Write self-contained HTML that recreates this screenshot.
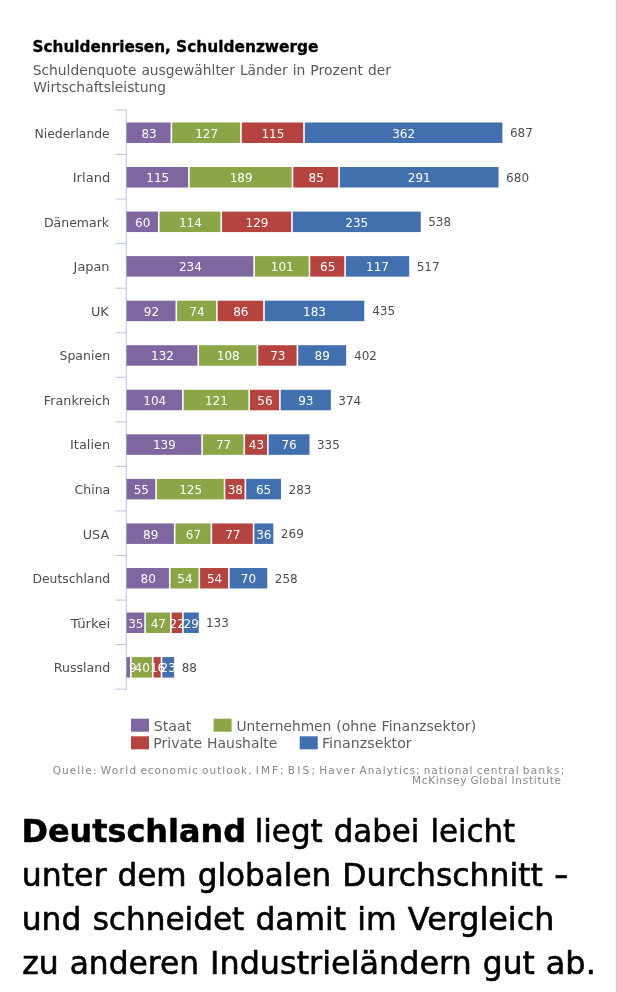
<!DOCTYPE html>
<html lang="de"><head><meta charset="utf-8"><title>Schuldenriesen, Schuldenzwerge</title>
<style>
html,body{margin:0;padding:0;background:#fff;}
body{width:617px;height:992px;overflow:hidden;position:relative;}
svg{position:absolute;left:0;top:0;display:block;}
text{font-family:"DejaVu Sans","Liberation Sans",sans-serif;}
.t{font-size:15px;font-weight:bold;fill:#000;stroke:#000;stroke-width:0.3px;}
.s{font-size:14px;fill:#5a5a5a;}
.c{font-size:12px;fill:#4d4d4d;}
.v{font-size:12px;fill:#fff;text-anchor:middle;}
.tot{font-size:12px;fill:#4d4d4d;}
.l{font-size:14px;fill:#5e5e5e;}
.q{font-size:10.5px;fill:#888;}
.big{font-size:31.5px;fill:#000;stroke:#000;stroke-width:0.6px;}
.bigb{font-size:31.5px;fill:#000;font-weight:bold;stroke:#000;stroke-width:0.5px;}
</style></head><body>
<svg width="617" height="992" viewBox="0 0 617 992">
<rect x="0" y="0" width="617" height="992" fill="#fff"/>
<rect x="615" y="0" width="1" height="992" fill="#f6f6f6"/>
<rect x="616" y="0" width="1" height="992" fill="#ccc"/>

<text class="t" x="32.52" y="51.50" textLength="138.32" lengthAdjust="spacingAndGlyphs">Schuldenriesen,</text>
<text class="t" x="176.11" y="51.50" textLength="142.43" lengthAdjust="spacingAndGlyphs">Schuldenzwerge</text>
<text class="s" x="32.69" y="74.80" textLength="103.83" lengthAdjust="spacingAndGlyphs">Schuldenquote</text>
<text class="s" x="141.42" y="74.80" textLength="93.60" lengthAdjust="spacingAndGlyphs">ausgewählter</text>
<text class="s" x="239.92" y="74.80" textLength="47.89" lengthAdjust="spacingAndGlyphs">Länder</text>
<text class="s" x="292.71" y="74.80" textLength="12.65" lengthAdjust="spacingAndGlyphs">in</text>
<text class="s" x="310.26" y="74.80" textLength="52.75" lengthAdjust="spacingAndGlyphs">Prozent</text>
<text class="s" x="367.91" y="74.80" textLength="22.94" lengthAdjust="spacingAndGlyphs">der</text>
<text class="s" x="33.18" y="92.30" textLength="132.96" lengthAdjust="spacingAndGlyphs">Wirtschaftsleistung</text>
<g stroke="#C6CCE8" stroke-width="1.2" fill="none">
<line x1="126.3" y1="109.50" x2="126.3" y2="689.65"/>
<line x1="115.5" y1="110.00" x2="126.5" y2="110.00" stroke="#BAC5DB" stroke-width="1"/>
<line x1="115.5" y1="154.55" x2="126.5" y2="154.55" stroke="#BAC5DB" stroke-width="1"/>
<line x1="115.5" y1="199.10" x2="126.5" y2="199.10" stroke="#BAC5DB" stroke-width="1"/>
<line x1="115.5" y1="243.65" x2="126.5" y2="243.65" stroke="#BAC5DB" stroke-width="1"/>
<line x1="115.5" y1="288.20" x2="126.5" y2="288.20" stroke="#BAC5DB" stroke-width="1"/>
<line x1="115.5" y1="332.75" x2="126.5" y2="332.75" stroke="#BAC5DB" stroke-width="1"/>
<line x1="115.5" y1="377.30" x2="126.5" y2="377.30" stroke="#BAC5DB" stroke-width="1"/>
<line x1="115.5" y1="421.85" x2="126.5" y2="421.85" stroke="#BAC5DB" stroke-width="1"/>
<line x1="115.5" y1="466.40" x2="126.5" y2="466.40" stroke="#BAC5DB" stroke-width="1"/>
<line x1="115.5" y1="510.95" x2="126.5" y2="510.95" stroke="#BAC5DB" stroke-width="1"/>
<line x1="115.5" y1="555.50" x2="126.5" y2="555.50" stroke="#BAC5DB" stroke-width="1"/>
<line x1="115.5" y1="600.05" x2="126.5" y2="600.05" stroke="#BAC5DB" stroke-width="1"/>
<line x1="115.5" y1="644.60" x2="126.5" y2="644.60" stroke="#BAC5DB" stroke-width="1"/>
<line x1="115.5" y1="689.15" x2="126.5" y2="689.15" stroke="#BAC5DB" stroke-width="1"/>
</g>
<text class="c" x="34.56" y="137.58" textLength="75.18" lengthAdjust="spacingAndGlyphs">Niederlande</text>
<rect x="126.50" y="122.48" width="44.08" height="20.5" fill="#7F66A0"/>
<rect x="172.18" y="122.48" width="68.00" height="20.5" fill="#8BA547"/>
<rect x="241.78" y="122.48" width="61.42" height="20.5" fill="#B5433F"/>
<rect x="304.80" y="122.48" width="197.58" height="20.5" fill="#426FAE"/>
<text class="v" x="149.04" y="137.58">83</text>
<text class="v" x="206.58" y="137.58">127</text>
<text class="v" x="272.89" y="137.58">115</text>
<text class="v" x="403.59" y="137.58">362</text>
<text class="tot" x="509.98" y="137.28" textLength="22.91" lengthAdjust="spacingAndGlyphs">687</text>
<text class="c" x="72.78" y="182.12" textLength="37.50" lengthAdjust="spacingAndGlyphs">Irland</text>
<rect x="126.50" y="167.02" width="61.62" height="20.5" fill="#7F66A0"/>
<rect x="189.72" y="167.02" width="101.97" height="20.5" fill="#8BA547"/>
<rect x="293.29" y="167.02" width="44.98" height="20.5" fill="#B5433F"/>
<rect x="339.87" y="167.02" width="158.67" height="20.5" fill="#426FAE"/>
<text class="v" x="157.81" y="182.12">115</text>
<text class="v" x="241.11" y="182.12">189</text>
<text class="v" x="316.18" y="182.12">85</text>
<text class="v" x="419.21" y="182.12">291</text>
<text class="tot" x="506.14" y="181.82" textLength="22.91" lengthAdjust="spacingAndGlyphs">680</text>
<text class="c" x="43.93" y="226.68" textLength="65.18" lengthAdjust="spacingAndGlyphs">Dänemark</text>
<rect x="126.50" y="211.57" width="31.48" height="20.5" fill="#7F66A0"/>
<rect x="159.58" y="211.57" width="60.87" height="20.5" fill="#8BA547"/>
<rect x="222.05" y="211.57" width="69.09" height="20.5" fill="#B5433F"/>
<rect x="292.74" y="211.57" width="127.98" height="20.5" fill="#426FAE"/>
<text class="v" x="142.74" y="226.68">60</text>
<text class="v" x="190.42" y="226.68">114</text>
<text class="v" x="257.00" y="226.68">129</text>
<text class="v" x="356.73" y="226.68">235</text>
<text class="tot" x="428.22" y="226.38" textLength="22.91" lengthAdjust="spacingAndGlyphs">538</text>
<text class="c" x="73.61" y="271.22" textLength="35.89" lengthAdjust="spacingAndGlyphs">Japan</text>
<rect x="126.50" y="256.12" width="126.83" height="20.5" fill="#7F66A0"/>
<rect x="254.93" y="256.12" width="53.75" height="20.5" fill="#8BA547"/>
<rect x="310.28" y="256.12" width="34.02" height="20.5" fill="#B5433F"/>
<rect x="345.90" y="256.12" width="63.32" height="20.5" fill="#426FAE"/>
<text class="v" x="190.42" y="271.22">234</text>
<text class="v" x="282.21" y="271.22">101</text>
<text class="v" x="327.69" y="271.22">65</text>
<text class="v" x="377.56" y="271.22">117</text>
<text class="tot" x="416.72" y="270.92" textLength="22.91" lengthAdjust="spacingAndGlyphs">517</text>
<text class="c" x="90.91" y="315.78" textLength="17.87" lengthAdjust="spacingAndGlyphs">UK</text>
<rect x="126.50" y="300.68" width="49.02" height="20.5" fill="#7F66A0"/>
<rect x="177.12" y="300.68" width="38.95" height="20.5" fill="#8BA547"/>
<rect x="217.67" y="300.68" width="45.53" height="20.5" fill="#B5433F"/>
<rect x="264.80" y="300.68" width="99.48" height="20.5" fill="#426FAE"/>
<text class="v" x="151.51" y="315.78">92</text>
<text class="v" x="196.99" y="315.78">74</text>
<text class="v" x="240.83" y="315.78">86</text>
<text class="v" x="314.54" y="315.78">183</text>
<text class="tot" x="372.13" y="315.48" textLength="22.91" lengthAdjust="spacingAndGlyphs">435</text>
<text class="c" x="59.44" y="360.32" textLength="50.72" lengthAdjust="spacingAndGlyphs">Spanien</text>
<rect x="126.50" y="345.22" width="70.94" height="20.5" fill="#7F66A0"/>
<rect x="199.04" y="345.22" width="57.58" height="20.5" fill="#8BA547"/>
<rect x="258.22" y="345.22" width="38.40" height="20.5" fill="#B5433F"/>
<rect x="298.22" y="345.22" width="47.97" height="20.5" fill="#426FAE"/>
<text class="v" x="162.47" y="360.32">132</text>
<text class="v" x="228.23" y="360.32">108</text>
<text class="v" x="277.82" y="360.32">73</text>
<text class="v" x="322.21" y="360.32">89</text>
<text class="tot" x="354.05" y="360.02" textLength="22.91" lengthAdjust="spacingAndGlyphs">402</text>
<text class="c" x="43.89" y="404.88" textLength="66.28" lengthAdjust="spacingAndGlyphs">Frankreich</text>
<rect x="126.50" y="389.77" width="55.59" height="20.5" fill="#7F66A0"/>
<rect x="183.69" y="389.77" width="64.71" height="20.5" fill="#8BA547"/>
<rect x="250.00" y="389.77" width="29.09" height="20.5" fill="#B5433F"/>
<rect x="280.69" y="389.77" width="50.16" height="20.5" fill="#426FAE"/>
<text class="v" x="154.80" y="404.88">104</text>
<text class="v" x="216.45" y="404.88">121</text>
<text class="v" x="264.94" y="404.88">56</text>
<text class="v" x="305.77" y="404.88">93</text>
<text class="tot" x="338.35" y="404.57" textLength="22.91" lengthAdjust="spacingAndGlyphs">374</text>
<text class="c" x="70.03" y="449.43" textLength="40.15" lengthAdjust="spacingAndGlyphs">Italien</text>
<rect x="126.50" y="434.32" width="74.77" height="20.5" fill="#7F66A0"/>
<rect x="202.87" y="434.32" width="40.60" height="20.5" fill="#8BA547"/>
<rect x="245.07" y="434.32" width="21.96" height="20.5" fill="#B5433F"/>
<rect x="268.63" y="434.32" width="40.85" height="20.5" fill="#426FAE"/>
<text class="v" x="164.39" y="449.43">139</text>
<text class="v" x="223.57" y="449.43">77</text>
<text class="v" x="256.45" y="449.43">43</text>
<text class="v" x="289.06" y="449.43">76</text>
<text class="tot" x="316.98" y="449.12" textLength="22.91" lengthAdjust="spacingAndGlyphs">335</text>
<text class="c" x="74.59" y="493.97" textLength="35.63" lengthAdjust="spacingAndGlyphs">China</text>
<rect x="126.50" y="478.87" width="28.74" height="20.5" fill="#7F66A0"/>
<rect x="156.84" y="478.87" width="66.90" height="20.5" fill="#8BA547"/>
<rect x="225.34" y="478.87" width="19.22" height="20.5" fill="#B5433F"/>
<rect x="246.16" y="478.87" width="34.82" height="20.5" fill="#426FAE"/>
<text class="v" x="141.37" y="493.97">55</text>
<text class="v" x="190.69" y="493.97">125</text>
<text class="v" x="235.35" y="493.97">38</text>
<text class="v" x="263.57" y="493.97">65</text>
<text class="tot" x="288.53" y="493.67" textLength="22.91" lengthAdjust="spacingAndGlyphs">283</text>
<text class="c" x="82.81" y="538.52" textLength="26.38" lengthAdjust="spacingAndGlyphs">USA</text>
<rect x="126.50" y="523.42" width="47.37" height="20.5" fill="#7F66A0"/>
<rect x="175.47" y="523.42" width="35.12" height="20.5" fill="#8BA547"/>
<rect x="212.19" y="523.42" width="40.60" height="20.5" fill="#B5433F"/>
<rect x="254.38" y="523.42" width="18.93" height="20.5" fill="#426FAE"/>
<text class="v" x="150.69" y="538.52">89</text>
<text class="v" x="193.43" y="538.52">67</text>
<text class="v" x="232.89" y="538.52">77</text>
<text class="v" x="263.85" y="538.52">36</text>
<text class="tot" x="280.86" y="538.22" textLength="22.91" lengthAdjust="spacingAndGlyphs">269</text>
<text class="c" x="32.44" y="583.07" textLength="77.75" lengthAdjust="spacingAndGlyphs">Deutschland</text>
<rect x="126.50" y="567.98" width="42.44" height="20.5" fill="#7F66A0"/>
<rect x="170.54" y="567.98" width="27.99" height="20.5" fill="#8BA547"/>
<rect x="200.13" y="567.98" width="27.99" height="20.5" fill="#B5433F"/>
<rect x="229.72" y="567.98" width="37.56" height="20.5" fill="#426FAE"/>
<text class="v" x="148.22" y="583.07">80</text>
<text class="v" x="184.94" y="583.07">54</text>
<text class="v" x="214.53" y="583.07">54</text>
<text class="v" x="248.50" y="583.07">70</text>
<text class="tot" x="274.83" y="582.77" textLength="22.91" lengthAdjust="spacingAndGlyphs">258</text>
<text class="c" x="70.89" y="627.62" textLength="39.34" lengthAdjust="spacingAndGlyphs">Türkei</text>
<rect x="126.50" y="612.52" width="17.78" height="20.5" fill="#7F66A0"/>
<rect x="145.88" y="612.52" width="24.16" height="20.5" fill="#8BA547"/>
<rect x="171.64" y="612.52" width="10.46" height="20.5" fill="#B5433F"/>
<rect x="183.69" y="612.52" width="15.09" height="20.5" fill="#426FAE"/>
<text class="v" x="135.89" y="627.62">35</text>
<text class="v" x="158.36" y="627.62">47</text>
<text class="v" x="177.26" y="627.62">22</text>
<text class="v" x="191.24" y="627.62">29</text>
<text class="tot" x="205.88" y="627.32" textLength="22.91" lengthAdjust="spacingAndGlyphs">133</text>
<text class="c" x="53.72" y="672.17" textLength="56.50" lengthAdjust="spacingAndGlyphs">Russland</text>
<rect x="126.50" y="657.08" width="3.53" height="20.5" fill="#7F66A0"/>
<rect x="131.63" y="657.08" width="20.32" height="20.5" fill="#8BA547"/>
<rect x="153.55" y="657.08" width="7.17" height="20.5" fill="#B5433F"/>
<rect x="162.32" y="657.08" width="11.80" height="20.5" fill="#426FAE"/>
<text class="v" x="132.77" y="672.17">9</text>
<text class="v" x="142.19" y="672.17">40</text>
<text class="v" x="157.54" y="672.17">16</text>
<text class="v" x="168.22" y="672.17">23</text>
<text class="tot" x="181.72" y="671.88" textLength="15.27" lengthAdjust="spacingAndGlyphs">88</text>
<rect x="131" y="718.7" width="18" height="13" fill="#7F66A0"/>
<text class="l" x="153.68" y="730.50" textLength="37.73" lengthAdjust="spacingAndGlyphs">Staat</text>
<rect x="213.6" y="718.7" width="18" height="13" fill="#8BA547"/>
<text class="l" x="236.52" y="730.50" textLength="94.80" lengthAdjust="spacingAndGlyphs">Unternehmen</text>
<text class="l" x="336.20" y="730.50" textLength="40.48" lengthAdjust="spacingAndGlyphs">(ohne</text>
<text class="l" x="381.55" y="730.50" textLength="94.63" lengthAdjust="spacingAndGlyphs">Finanzsektor)</text>
<rect x="131" y="736.3" width="18" height="13" fill="#B5433F"/>
<text class="l" x="153.27" y="748.20" textLength="48.91" lengthAdjust="spacingAndGlyphs">Private</text>
<text class="l" x="207.11" y="748.20" textLength="70.19" lengthAdjust="spacingAndGlyphs">Haushalte</text>
<rect x="299.7" y="736.3" width="18" height="13" fill="#426FAE"/>
<text class="l" x="321.96" y="748.20" textLength="89.78" lengthAdjust="spacingAndGlyphs">Finanzsektor</text>
<text class="q" x="52.63" y="773.50" textLength="43.83" lengthAdjust="spacing">Quelle:</text>
<text class="q" x="100.73" y="773.50" textLength="35.41" lengthAdjust="spacing">World</text>
<text class="q" x="140.40" y="773.50" textLength="57.38" lengthAdjust="spacing">economic</text>
<text class="q" x="202.05" y="773.50" textLength="49.45" lengthAdjust="spacing">outlook,</text>
<text class="q" x="255.77" y="773.50" textLength="27.80" lengthAdjust="spacing">IMF;</text>
<text class="q" x="287.83" y="773.50" textLength="27.22" lengthAdjust="spacing">BIS;</text>
<text class="q" x="319.31" y="773.50" textLength="35.97" lengthAdjust="spacing">Haver</text>
<text class="q" x="359.55" y="773.50" textLength="60.00" lengthAdjust="spacing">Analytics;</text>
<text class="q" x="423.82" y="773.50" textLength="48.71" lengthAdjust="spacing">national</text>
<text class="q" x="476.79" y="773.50" textLength="41.78" lengthAdjust="spacing">central</text>
<text class="q" x="522.84" y="773.50" textLength="41.52" lengthAdjust="spacing">banks;</text>
<text class="q" x="411.89" y="784.20" textLength="54.50" lengthAdjust="spacing">McKinsey</text>
<text class="q" x="470.50" y="784.20" textLength="36.80" lengthAdjust="spacing">Global</text>
<text class="q" x="511.40" y="784.20" textLength="49.69" lengthAdjust="spacing">Institute</text>
<text class="bigb" x="21.50" y="841.60" textLength="224.50" lengthAdjust="spacingAndGlyphs">Deutschland</text>
<text class="big" x="254.67" y="841.60" textLength="68.07" lengthAdjust="spacingAndGlyphs">liegt</text>
<text class="big" x="333.80" y="841.60" textLength="85.55" lengthAdjust="spacingAndGlyphs">dabei</text>
<text class="big" x="430.42" y="841.60" textLength="84.78" lengthAdjust="spacingAndGlyphs">leicht</text>
<text class="big" x="21.72" y="885.70" textLength="84.64" lengthAdjust="spacingAndGlyphs">unter</text>
<text class="big" x="117.45" y="885.70" textLength="69.15" lengthAdjust="spacingAndGlyphs">dem</text>
<text class="big" x="197.70" y="885.70" textLength="133.52" lengthAdjust="spacingAndGlyphs">globalen</text>
<text class="big" x="342.31" y="885.70" textLength="200.51" lengthAdjust="spacingAndGlyphs">Durchschnitt</text>
<text class="big" x="553.92" y="885.70" textLength="14.33" lengthAdjust="spacingAndGlyphs">-</text>
<text class="big" x="21.71" y="929.70" textLength="59.79" lengthAdjust="spacingAndGlyphs">und</text>
<text class="big" x="92.63" y="929.70" textLength="151.66" lengthAdjust="spacingAndGlyphs">schneidet</text>
<text class="big" x="255.42" y="929.70" textLength="90.69" lengthAdjust="spacingAndGlyphs">damit</text>
<text class="big" x="357.25" y="929.70" textLength="39.48" lengthAdjust="spacingAndGlyphs">im</text>
<text class="big" x="407.86" y="929.70" textLength="146.50" lengthAdjust="spacingAndGlyphs">Vergleich</text>
<text class="big" x="22.14" y="974.00" textLength="36.47" lengthAdjust="spacingAndGlyphs">zu</text>
<text class="big" x="69.68" y="974.00" textLength="129.35" lengthAdjust="spacingAndGlyphs">anderen</text>
<text class="big" x="210.10" y="974.00" textLength="261.61" lengthAdjust="spacingAndGlyphs">Industrieländern</text>
<text class="big" x="482.78" y="974.00" textLength="51.96" lengthAdjust="spacingAndGlyphs">gut</text>
<text class="big" x="545.81" y="974.00" textLength="49.99" lengthAdjust="spacingAndGlyphs">ab.</text>
</svg></body></html>
